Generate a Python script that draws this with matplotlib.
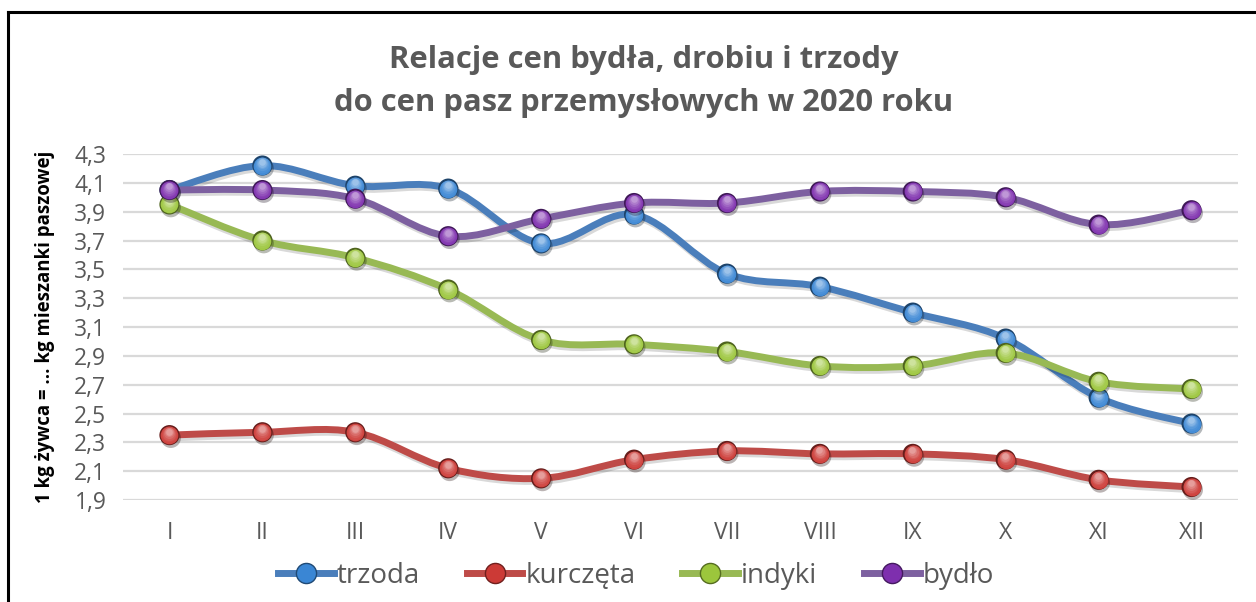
import matplotlib
matplotlib.use("Agg")
import matplotlib.pyplot as plt
import numpy as np
from matplotlib.path import Path
from matplotlib.patches import PathPatch
from matplotlib.lines import Line2D
from matplotlib import patheffects as pe
from matplotlib import transforms
from matplotlib.colors import to_rgb

plt.rcParams['font.family'] = ['Open Sans', 'DejaVu Sans']

months = ["I", "II", "III", "IV", "V", "VI", "VII", "VIII", "IX", "X", "XI", "XII"]
trzoda = [4.05, 4.22, 4.08, 4.06, 3.68, 3.88, 3.47, 3.38, 3.20, 3.02, 2.61, 2.43]
kurczeta = [2.35, 2.37, 2.37, 2.12, 2.05, 2.18, 2.24, 2.22, 2.22, 2.18, 2.04, 1.99]
indyki = [3.95, 3.70, 3.58, 3.36, 3.01, 2.98, 2.93, 2.83, 2.83, 2.92, 2.72, 2.67]
bydlo = [4.05, 4.05, 3.99, 3.73, 3.85, 3.96, 3.96, 4.04, 4.04, 4.00, 3.81, 3.91]

series = [
    ("trzoda", trzoda, "#4a7ebb", "#3a86d4"),
    ("kurczęta", kurczeta, "#be4b48", "#cc3a36"),
    ("indyki", indyki, "#98b954", "#9cc63c"),
    ("bydło", bydlo, "#7d60a0", "#7e2fae"),
]
y_ticks = np.arange(1.9, 4.31, 0.2)


def smooth_path(x, y):
    # Bezier through the points, Catmull-Rom style like Excel's smoothed lines
    pts = np.column_stack([x, y])
    ext = np.vstack([pts[0], pts, pts[-1]])
    verts = [pts[0]]
    codes = [Path.MOVETO]
    for i in range(len(pts) - 1):
        p0, p1, p2, p3 = ext[i], ext[i + 1], ext[i + 2], ext[i + 3]
        verts += [p1 + (p2 - p0) / 6, p2 - (p3 - p1) / 6, p2]
        codes += [Path.CURVE4] * 3
    return Path(verts, codes)


def mix(c, t, target=(1, 1, 1)):
    c = np.array(to_rgb(c))
    return tuple(c + (np.array(target) - c) * t)


def sphere(ax, x, y, color, size=14.5, z=5):
    # dark rim, base ball, then lighter layers drifting up for the highlight
    ax.plot(x, y, 'o', ms=size, mfc=mix(color, 0.5, (0, 0, 0)), mec='none', zorder=z,
            path_effects=[pe.SimplePatchShadow(offset=(1, -2), alpha=0.3), pe.Normal()])
    n = 6
    for k in range(n):
        t = k / (n - 1)
        s = size * (0.88 - 0.55 * t)
        off = transforms.offset_copy(ax.transData, fig=ax.figure, x=-0.3 * t, y=2.6 * t, units='points')
        ax.plot(x, y, 'o', ms=s, mfc=mix(color, 0.05 + 0.45 * t ** 1.5), mec='none',
                zorder=z + 0.01 * (k + 1), transform=off)


fig = plt.figure(figsize=(12.56, 6.02), dpi=100)
ax = fig.add_axes([123 / 1256, 1 - 500 / 602, (1238 - 123) / 1256, 346 / 602])

x = np.arange(len(months))
for i, (name, vals, lc, mc) in enumerate(series):
    patch = PathPatch(smooth_path(x, vals), facecolor='none', edgecolor=lc, lw=5,
                      capstyle='round', joinstyle='round', zorder=3 + i * 0.1,
                      path_effects=[pe.SimpleLineShadow(offset=(1, -2), alpha=0.15, shadow_color='k'),
                                    pe.Normal()])
    ax.add_patch(patch)
    sphere(ax, x, vals, mc, z=5 + i)

ax.set_xlim(-0.5, len(months) - 0.5)
ax.set_ylim(1.9, 4.3)
ax.set_yticks(y_ticks)
ax.set_yticklabels([f"{v:.1f}".replace(".", ",") for v in y_ticks])
ax.set_xticks(x)
ax.set_xticklabels(months)
ax.tick_params(axis='both', length=0, labelsize=16.5, labelcolor='#595959')
ax.tick_params(axis='y', pad=12)
ax.tick_params(axis='x', pad=15)
ax.grid(axis='y', color='#d9d9d9', lw=1.6)
ax.set_axisbelow(True)
for s in ax.spines.values():
    s.set_visible(False)
ax.set_ylabel("1 kg żywca = ... kg mieszanki paszowej", fontsize=13.4, fontweight='bold',
              color='black', labelpad=14)

fig.text(644 / 1256, 1 - 60 / 602, "Relacje cen bydła, drobiu i trzody", ha='center', va='center',
         fontsize=22.3, fontweight='bold', color='#595959')
fig.text(644 / 1256, 1 - 103 / 602, "do cen pasz przemysłowych w 2020 roku", ha='center',
         va='center', fontsize=22.3, fontweight='bold', color='#595959')

handles = [Line2D([0], [0], color=lc, lw=5, marker='o', ms=14.5, mfc=mc,
                  mec=mix(mc, 0.45, (0, 0, 0)), mew=1) for _, _, lc, mc in series]
fig.legend(handles, [s[0] for s in series], loc='center', bbox_to_anchor=(636 / 1256, 1 - 576 / 602),
           ncol=4, frameon=False, fontsize=20, handlelength=2.0, handletextpad=0.1,
           columnspacing=1.7, labelcolor='#595959')

# black frame lines visible on left and top of the original screenshot
fig.add_artist(Line2D([8 / 1256, 8 / 1256], [0, 1 - 12 / 602], color='black', lw=2.2,
                      transform=fig.transFigure))
fig.add_artist(Line2D([8 / 1256, 1], [1 - 12 / 602, 1 - 12 / 602], color='black', lw=2.2,
                      transform=fig.transFigure))

fig.savefig("out.png", dpi=100)
